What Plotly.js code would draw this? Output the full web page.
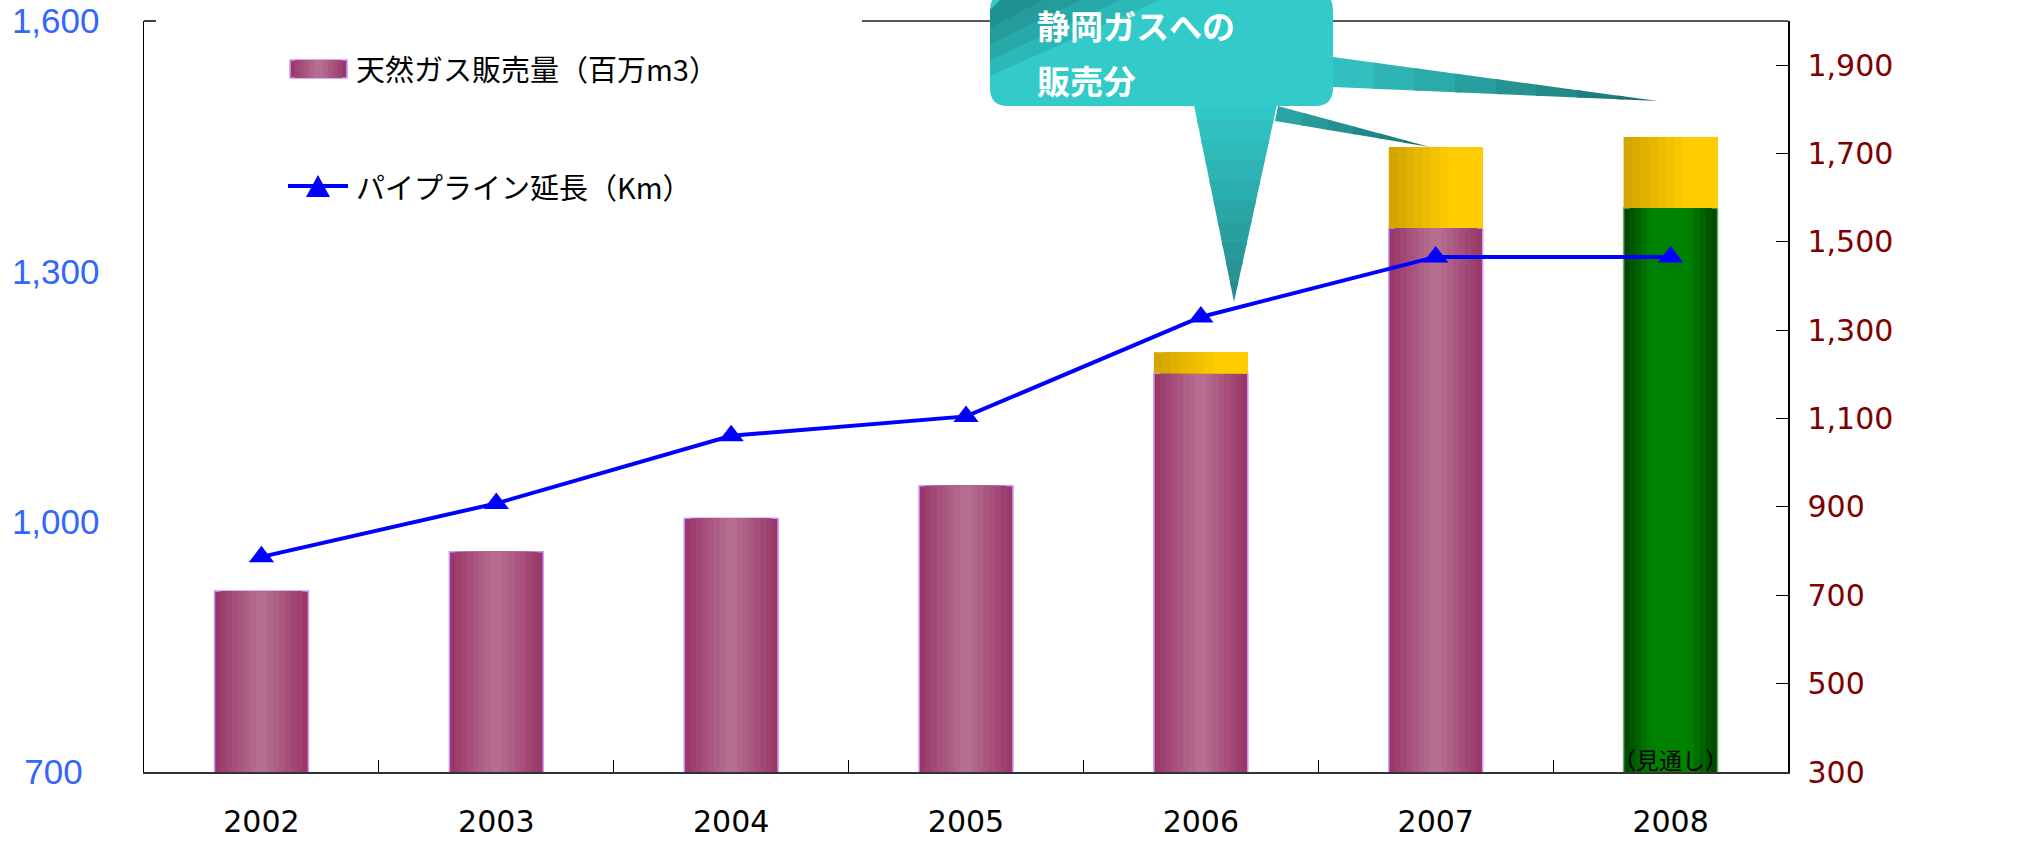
<!DOCTYPE html>
<html>
<head>
<meta charset="utf-8">
<script src="https://cdn.plot.ly/plotly-3.0.1.min.js"></script>
<style>html,body{margin:0;padding:0;background:#fff;}#chart{width:2042px;height:843px;}</style>
</head>
<body>
<div id="chart"></div>
<script>
// ---- data ----
const categories = ['2002', '2003', '2004', '2005', '2006', '2007', '2008'];
const salesVolume = [917, 964, 1004, 1043, 1178, 1352, 1376];          // 天然ガス販売量（百万m3）
const shizuokaGasSales = [null, null, null, null, 25, 97, 85];        // 静岡ガスへの販売分
const pipelineLength = [787, 908, 1061, 1105, 1330, 1466, 1466];      // パイプライン延長（Km）
const forecastFlags = [false, false, false, false, false, false, true];
const leftTicks = [700, 1000, 1300, 1600];
const leftTickText = ['700\u00a0\u2009', '1,000', '1,300', '1,600'];
const rightTicks = [300, 500, 700, 900, 1100, 1300, 1500, 1700, 1900];
const salesName = '天然ガス販売量（百万m3）';
const pipeName = 'パイプライン延長（Km）';
const calloutLines = ['静岡ガスへの', '販売分'];
const forecastLabel = '（見通し）';

// ---- helpers ----
function hex2rgb(h){h=h.replace('#','');return [parseInt(h.substr(0,2),16),parseInt(h.substr(2,2),16),parseInt(h.substr(4,2),16)];}
function lerp(a,b,t){const A=hex2rgb(a),B=hex2rgb(b);return 'rgb('+A.map((v,i)=>Math.round(v+(B[i]-v)*t)).join(',')+')';}

const L = 144, T = 21, PW = 1644, PH = 751, W = 2042, H = 843;
const px = X => (X - L) / PW;
const py = Y => (T + PH - Y) / PH;
function poly(pts){return 'M' + pts.map(p => px(p[0]).toFixed(5) + ',' + py(p[1]).toFixed(5)).join(' L') + ' Z';}

const BW = 0.4, N = 8;
const traces = [];
// main bars with horizontal cylinder-like gradient
for (let k = 0; k < N; k++) {
  const t = (k + 1) / N;
  const colors = forecastFlags.map(f => f ? lerp('#003C00', '#008200', Math.min(1, t * 1.5)) : lerp('#953063', '#B56E90', t));
  traces.push({
    type: 'bar', x: categories, y: salesVolume, width: BW * (1 - k / N),
    marker: {color: colors, line: k === 0 ? {color: forecastFlags.map(f => f ? '#6FA86F' : '#CC99FF'), width: 1.5} : {width: 0}},
    yaxis: 'y', showlegend: false, hoverinfo: k === 0 ? 'x+y' : 'skip', name: salesName
  });
}
// Shizuoka Gas portion stacked on top (left-to-right gradient)
const step = BW * 0.72 / N;
for (let k = 0; k < N; k++) {
  traces.push({
    type: 'bar', x: categories, y: shizuokaGasSales, base: salesVolume,
    offset: -BW / 2 + k * step, width: BW - k * step,
    marker: {color: lerp('#D3A600', '#FFCC00', k / (N - 1)), line: {width: 0}},
    yaxis: 'y', showlegend: false, hoverinfo: k === 0 ? 'x+y' : 'skip', name: calloutLines.join('')
  });
}
// pipeline length line
traces.push({
  type: 'scatter', mode: 'lines+markers', x: categories, y: pipelineLength, yaxis: 'y2',
  line: {color: '#0000FF', width: 4}, marker: {symbol: 'triangle-up', size: 22, color: '#0000FF'},
  showlegend: false, name: pipeName
});

// ---- shapes ----
const shapes = [];
const pl = (x0, y0, x1, y1, c, w) => ({type: 'line', xref: 'paper', yref: 'paper', x0: px(x0), y0: py(y0), x1: px(x1), y1: py(y1), line: {color: c, width: w}, layer: 'above'});
shapes.push(pl(144, 21, 156, 21, '#000', 1.5));
shapes.push(pl(862, 21, 1788, 21, '#222', 1.5));

function wedge(A, B, Tp, c0, c1, M) {
  for (let j = 0; j < M; j++) {
    const f0 = j / M, f1 = Math.min(1, (j + 1) / M + 0.02);
    const a0 = [A[0] + (Tp[0] - A[0]) * f0, A[1] + (Tp[1] - A[1]) * f0];
    const b0 = [B[0] + (Tp[0] - B[0]) * f0, B[1] + (Tp[1] - B[1]) * f0];
    const a1 = [A[0] + (Tp[0] - A[0]) * f1, A[1] + (Tp[1] - A[1]) * f1];
    const b1 = [B[0] + (Tp[0] - B[0]) * f1, B[1] + (Tp[1] - B[1]) * f1];
    shapes.push({type: 'path', xref: 'paper', yref: 'paper', path: poly([a0, b0, b1, a1]), fillcolor: lerp(c0, c1, (j + 0.5) / M), line: {width: 0}, layer: 'above'});
  }
}
// pointers
wedge([1333, 57], [1333, 87], [1658, 101], '#33C4C4', '#1B6C6C', 8);
wedge([1278, 106], [1275, 121], [1430, 147], '#2CA8A8', '#1D7070', 6);
wedge([1193, 100], [1278, 100], [1234, 302], '#33CACA', '#24898A', 10);
// box (rounded rect)
(function(){
  const x0 = 990, x1 = 1333, y0 = -8, y1 = 106, r = 18;
  const p = (x, y) => px(x).toFixed(5) + ',' + py(y).toFixed(5);
  const path = 'M' + p(x0 + r, y0) + ' L' + p(x1 - r, y0) + ' Q' + p(x1, y0) + ' ' + p(x1, y0 + r) +
    ' L' + p(x1, y1 - r) + ' Q' + p(x1, y1) + ' ' + p(x1 - r, y1) + ' L' + p(x0 + r, y1) +
    ' Q' + p(x0, y1) + ' ' + p(x0, y1 - r) + ' L' + p(x0, y0 + r) + ' Q' + p(x0, y0) + ' ' + p(x0 + r, y0) + ' Z';
  shapes.push({type: 'path', xref: 'paper', yref: 'paper', path: path, fillcolor: '#33CACA', line: {width: 0}, layer: 'above'});
  const sizes = [[170, 66], [130, 50], [90, 34], [50, 18]];
  sizes.forEach(s => {
    shapes.push({type: 'path', xref: 'paper', yref: 'paper', path: poly([[x0 + r, y0], [x0 + r + s[0], y0], [x0, y0 + r + s[1]], [x0, y0 + r]]), fillcolor: 'rgba(20,95,95,0.16)', line: {width: 0}, layer: 'above'});
  });
})();

// manual legend
(function(){
  const x0 = 290, x1 = 347, y0 = 60, y1 = 78, M = 6;
  for (let k = 0; k < M; k++) {
    const inset = (x1 - x0) / 2 * k / M;
    shapes.push({type: 'rect', xref: 'paper', yref: 'paper', x0: px(x0 + inset), x1: px(x1 - inset), y0: py(y1), y1: py(y0),
      fillcolor: lerp('#953063', '#B56E90', (k + 1) / M), line: k === 0 ? {color: '#CC99FF', width: 1.5} : {width: 0}, layer: 'above'});
  }
  shapes.push(pl(288, 186, 348, 186, '#0000FF', 4));
  shapes.push({type: 'path', xref: 'paper', yref: 'paper', path: poly([[306, 197], [330, 197], [318, 175]]), fillcolor: '#0000FF', line: {width: 0}, layer: 'above'});
})();

const cjk = '"Noto Sans CJK JP", "Noto Sans", sans-serif';
const annotations = [
  {xref: 'paper', yref: 'paper', x: px(354), y: py(68), xanchor: 'left', yanchor: 'middle', text: salesName, showarrow: false, font: {family: cjk, size: 29, color: '#000'}},
  {xref: 'paper', yref: 'paper', x: px(354), y: py(186), xanchor: 'left', yanchor: 'middle', text: pipeName, showarrow: false, font: {family: cjk, size: 29, color: '#000'}},
  {xref: 'paper', yref: 'paper', x: px(1035), y: py(25), xanchor: 'left', yanchor: 'middle', text: '<b>' + calloutLines[0] + '</b>', showarrow: false, font: {family: cjk, size: 33, color: '#FFFFFF'}},
  {xref: 'paper', yref: 'paper', x: px(1035), y: py(80), xanchor: 'left', yanchor: 'middle', text: '<b>' + calloutLines[1] + '</b>', showarrow: false, font: {family: cjk, size: 33, color: '#FFFFFF'}},
  {xref: 'paper', yref: 'paper', x: 6.5 / 7, y: py(759), xanchor: 'center', yanchor: 'middle', text: forecastLabel, showarrow: false, font: {family: cjk, size: 23, color: '#000'}}
];

const layout = {
  width: W, height: H, autosize: false,
  margin: {l: L, r: W - L - PW, t: T, b: H - T - PH, pad: 0},
  paper_bgcolor: '#FFFFFF', plot_bgcolor: '#FFFFFF',
  barmode: 'overlay', showlegend: false,
  xaxis: {type: 'category', range: [-0.5, 6.5], showline: true, linecolor: '#333', linewidth: 2,
    ticks: 'inside', tickson: 'boundaries', ticklen: 12, tickcolor: '#000', tickwidth: 1,
    tickfont: {family: '"DejaVu Sans", sans-serif', size: 30, color: '#000'}, ticklabelstandoff: 22,
    showgrid: false, zeroline: false, fixedrange: true},
  yaxis: {range: [700, 1600], tickvals: leftTicks, ticktext: leftTickText, ticks: '', showline: true, linecolor: '#000', linewidth: 1.5,
    tickfont: {family: '"Liberation Sans", Arial, sans-serif', size: 35, color: '#3366FF'}, ticklabelstandoff: 36,
    showgrid: false, zeroline: false, fixedrange: true},
  yaxis2: {overlaying: 'y', side: 'right', range: [300, 2000], tickvals: rightTicks, tickformat: ',d',
    ticks: 'inside', ticklen: 12, tickcolor: '#000', tickwidth: 1, showline: true, linecolor: '#000', linewidth: 1.5,
    tickfont: {family: '"DejaVu Sans", sans-serif', size: 30, color: '#800000'}, ticklabelstandoff: 12,
    showgrid: false, zeroline: false, fixedrange: true},
  shapes: shapes, annotations: annotations
};

Plotly.newPlot('chart', traces, layout, {displayModeBar: false, staticPlot: true});
</script>
</body>
</html>
